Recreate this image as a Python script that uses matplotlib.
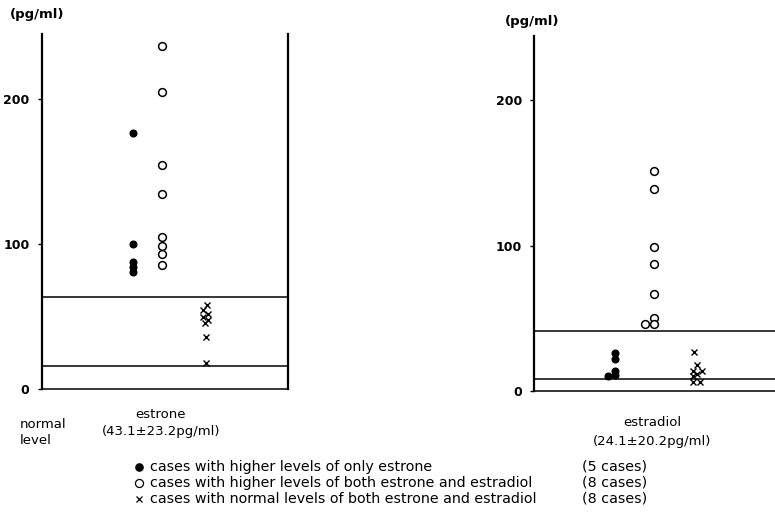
import matplotlib
matplotlib.use("Agg")
import matplotlib.pyplot as plt

# ---------------- data ----------------
estrone_only_high = [177, 100, 88, 84, 81]                 # filled circles
estrone_both_high = [237, 205, 155, 135, 105, 99, 93, 86]  # open circles
estrone_normal = [58, 55, 52, 50, 48, 46, 36, 18]          # crosses

estradiol_only_high = [26, 22, 14, 11, 10]
estradiol_both_high = [151, 139, 99, 87, 67, 50, 46, 46]
estradiol_normal = [27, 18, 14, 14, 12, 10, 6, 6]

estrone_normal_range = [16.3, 63.4]
estradiol_normal_range = [8.2, 41.4]

yticks = [0, 100, 200]
legend_labels = [
    "cases with higher levels of only estrone",
    "cases with higher levels of both estrone and estradiol",
    "cases with normal levels of both estrone and estradiol",
]
legend_counts = ["(5 cases)", "(8 cases)", "(8 cases)"]

# ---------------- layout / style ----------------
W, H = 775, 513
fig = plt.figure(figsize=(W / 100, H / 100), dpi=100)

def px_axes(x0, y0, x1, y1):
    return fig.add_axes([x0 / W, (H - y1) / H, (x1 - x0) / W, (y1 - y0) / H])

axL = px_axes(42, 34, 288.3, 389.3)
axR = px_axes(534.3, 36, 775, 391)

# x positions of groups (in axis pixel-like units) and small jitters
L_pos = {"f": [91, 91, 91, 91, 91], "o": [120] * 8,
         "x": [165, 161, 166, 161, 166, 163, 164, 164]}
R_pos = {"f": [81, 81, 81, 81, 74],
         "o": [120, 120, 120, 120, 120, 120, 120, 111],
         "x": [160, 163, 159, 168, 163, 159, 159, 166]}

def draw(ax, fdata, odata, xdata, pos, nrange, ymax, xmax):
    ax.set_xlim(0, xmax)
    ax.set_ylim(0, ymax)
    for v in nrange:
        ax.axhline(v, color="black", lw=1.1)
    ax.plot(pos["f"], fdata, "o", ms=4.8, color="black", ls="none")
    ax.plot(pos["o"], odata, "o", ms=5.6, mfc="white", mec="black", mew=1.1, ls="none")
    ax.plot(pos["x"], xdata, "x", ms=4.2, color="black", mew=1.0, ls="none")
    ax.set_xticks([])
    ax.set_yticks(yticks)
    ax.tick_params(axis="y", direction="out", length=3, width=1, pad=6, labelsize=9)
    for lab in ax.get_yticklabels():
        lab.set_fontweight("bold")
    ax.spines["top"].set_visible(False)
    ax.spines["left"].set_linewidth(1.6)
    ax.spines["bottom"].set_linewidth(1.1)

draw(axL, estrone_only_high, estrone_both_high, estrone_normal, L_pos,
     estrone_normal_range, 245, 246.3)
axL.spines["right"].set_linewidth(1.6)

draw(axR, estradiol_only_high, estradiol_both_high, estradiol_normal, R_pos,
     estradiol_normal_range, 244, 240.7)
axR.spines["right"].set_visible(False)

# ---------------- texts ----------------
def ftxt(x, y, s, **kw):
    fig.text(x / W, 1 - y / H, s, **kw)

ftxt(10, 15, "(pg/ml)", fontsize=9.5, fontweight="bold", va="center", ha="left")
ftxt(505, 22, "(pg/ml)", fontsize=9.5, fontweight="bold", va="center", ha="left")

ftxt(20, 424, "normal", fontsize=9.5, va="center", ha="left")
ftxt(20, 440, "level", fontsize=9.5, va="center", ha="left")
ftxt(161, 415, "estrone", fontsize=9.5, va="center", ha="center")
ftxt(161, 432, "(43.1\u00b123.2pg/ml)", fontsize=9.5, va="center", ha="center")
ftxt(652, 423, "estradiol", fontsize=9.5, va="center", ha="center")
ftxt(652, 441, "(24.1\u00b120.2pg/ml)", fontsize=9.5, va="center", ha="center")

leg_y = [467, 483, 499]
for y, lab, cnt in zip(leg_y, legend_labels, legend_counts):
    ftxt(150, y, lab, fontsize=10.3, va="center", ha="left")
    ftxt(582, y, cnt, fontsize=10.3, va="center", ha="left")

# legend marker glyphs, drawn with the same marker styles
mk = fig.add_axes([0, 0, 1, 1], facecolor="none")
mk.set_xlim(0, W)
mk.set_ylim(H, 0)
mk.axis("off")
mk.plot([139], [leg_y[0]], "o", ms=5.2, color="black")
mk.plot([139], [leg_y[1]], "o", ms=5.8, mfc="white", mec="black", mew=0.9)
mk.plot([139], [leg_y[2]], "x", ms=5, color="black", mew=0.9)

fig.savefig("out.png", dpi=100)
